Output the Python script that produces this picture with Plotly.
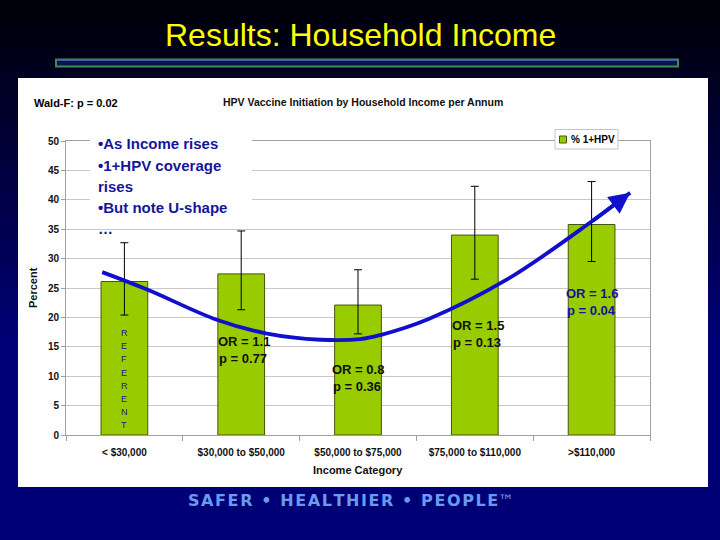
import plotly.graph_objects as go

# ---------------- data ----------------
categories = ["< $30,000", "$30,000 to $50,000", "$50,000 to $75,000",
              "$75,000 to $110,000", ">$110,000"]
pct_1hpv = [26.1, 27.4, 22.1, 34.0, 35.8]
ci_upper = [32.7, 34.7, 28.1, 42.3, 43.1]
ci_lower = [20.4, 21.3, 17.2, 26.5, 29.5]
odds_ratio = [None, "1.1", "0.8", "1.5", "1.6"]
p_values = [None, "0.77", "0.36", "0.13", "0.04"]
y_ticks = [0, 5, 10, 15, 20, 25, 30, 35, 40, 45, 50]
series_name = "% 1+HPV"

# hand-drawn U-shaped trend arrow (category position, percent)
trend_x = [-0.19, 0.2, 0.79, 1.21, 1.68, 2.02, 2.19, 2.6, 3.28, 4.0, 4.33]
trend_y = [27.7, 24.7, 19.6, 17.3, 16.2, 16.3, 17.0, 19.7, 26.5, 36.3, 41.2]

bullets = ["\u2022As Income rises", "\u20221+HPV coverage", "rises",
           "\u2022But note U-shape", "\u2026"]
referent = "REFERENT"

# ---------------- helpers ----------------
W, H = 720, 540
def px(x):
    return x / W
def py(y):
    return 1 - y / H

FONT = "Liberation Sans, Arial, sans-serif"
NAVY_TXT = "#16169a"
BAR_COLOR = "#99cc00"
BAR_EDGE = "#46560a"
CURVE = "#1010cc"

fig = go.Figure()

fig.add_trace(go.Bar(
    x=list(range(len(categories))), y=pct_1hpv, width=0.4, name=series_name,
    marker=dict(color=BAR_COLOR, line=dict(color=BAR_EDGE, width=1)),
    error_y=dict(type="data", symmetric=False,
                 array=[u - v for u, v in zip(ci_upper, pct_1hpv)],
                 arrayminus=[v - l for v, l in zip(pct_1hpv, ci_lower)],
                 color="black", thickness=1, width=4),
    hoverinfo="skip", showlegend=False,
))

fig.add_trace(go.Scatter(
    x=trend_x, y=trend_y, mode="lines", showlegend=False, hoverinfo="skip",
    line=dict(color=CURVE, width=3.8, shape="spline", smoothing=1),
))

shapes = []
# background gradient (black top -> navy bottom)
n = 45
for i in range(n):
    y0 = i * H / n
    y1 = (i + 1) * H / n
    t = min(1.0, (y0 + y1) / 2 / 340)
    b = int(8 + (118 - 8) * t)
    shapes.append(dict(type="rect", xref="paper", yref="paper", layer="below",
                       x0=0, x1=1, y0=py(y1), y1=py(y0), line=dict(width=0),
                       fillcolor=f"rgb(0,0,{b})"))
# white panel
shapes.append(dict(type="rect", xref="paper", yref="paper", layer="below",
                   x0=px(18), x1=px(708), y0=py(487), y1=py(78),
                   line=dict(width=0), fillcolor="white"))
# title rule
shapes.append(dict(type="rect", xref="paper", yref="paper", layer="below",
                   x0=px(56), x1=px(678), y0=py(66.5), y1=py(59.5),
                   line=dict(color="#3c8c4c", width=2), fillcolor="#0c1450"))
shapes.append(dict(type="line", xref="paper", yref="paper", layer="below",
                   x0=px(57), x1=px(677), y0=py(60), y1=py(60),
                   line=dict(color="#3f66c8", width=1.5)))
# white box behind bullet text
shapes.append(dict(type="rect", xref="paper", yref="paper", layer="above",
                   x0=px(90), x1=px(252), y0=py(216), y1=py(134),
                   line=dict(width=0), fillcolor="white"))
# legend box
shapes.append(dict(type="rect", xref="paper", yref="paper", layer="above",
                   x0=px(555), x1=px(618), y0=py(149), y1=py(129.5),
                   line=dict(color="#c4c4c4", width=1), fillcolor="white"))
shapes.append(dict(type="rect", xref="paper", yref="paper", layer="above",
                   x0=px(559.5), x1=px(566.5), y0=py(143), y1=py(136),
                   line=dict(color=BAR_EDGE, width=1), fillcolor=BAR_COLOR))

ann = []
def txt(text, x, y, size, color="#111", xanchor="center", family=FONT, **kw):
    d = dict(text=text, x=px(x), y=py(y), xref="paper", yref="paper",
             xanchor=xanchor, yanchor="middle", showarrow=False,
             font=dict(family=family, size=size, color=color))
    d.update(kw)
    ann.append(d)

txt("Results: Household Income", 360, 35, 32, "#ffff00")
txt("<b>Wald-F: p = 0.02</b>", 32, 102.5, 11, "black", xanchor="left")
txt("<b>HPV Vaccine Initiation by Household Income per Annum</b>", 363, 101.5, 10.5)
txt("<b>Percent</b>", 33, 288, 11, textangle=-90)
txt("<b>Income Category</b>", 358, 470, 11)
txt(f"<b>{series_name}</b>", 569, 139.5, 10, "black", xanchor="left")
for i, line in enumerate(bullets):
    txt(f"<b>{line}</b>", 96, 144 + 21.2 * i, 15, NAVY_TXT, xanchor="left")
for i, ch in enumerate(referent):
    ann.append(dict(text=ch, x=0, y=py(333 + 13.2 * i), xref="x", yref="paper",
                    xanchor="center", yanchor="middle", showarrow=False,
                    font=dict(family=FONT, size=9, color=NAVY_TXT)))
or_pos = {1: (216, 341, "#111111"), 2: (330, 369, "#111111"),
          3: (450, 325, "#111111"), 4: (564, 293, "#14149a")}
for i in range(len(categories)):
    if odds_ratio[i] is None:
        continue
    x0, y0, col = or_pos[i]
    txt(f"<b>OR = {odds_ratio[i]}</b>", x0, y0, 13, col, xanchor="left")
    txt(f"<b>p = {p_values[i]}</b>", x0 + 1, y0 + 17, 13, col, xanchor="left")
# arrow head for the trend
ann.append(dict(text="", x=trend_x[-1], y=trend_y[-1], ax=trend_x[-2], ay=trend_y[-2],
                xref="x", yref="y", axref="x", ayref="y", showarrow=True,
                arrowhead=2, arrowsize=1.1, arrowwidth=3.8, arrowcolor=CURVE))
hs = "\u200a"
slogan = hs.join("SAFER \u2022 HEALTHIER \u2022 PEOPLE")
txt(f"<b>{slogan}</b>\u2122", 351, 500, 16, "#6a9af0", family="DejaVu Sans, sans-serif")

fig.update_layout(
    width=W, height=H, autosize=False,
    margin=dict(l=0, r=0, t=0, b=0, pad=0, autoexpand=False),
    paper_bgcolor="#000040", plot_bgcolor="white",
    shapes=shapes, annotations=ann,
    showlegend=False,
    xaxis=dict(domain=[px(66), px(650)], range=[-0.5, 4.5], automargin=False,
               tickmode="array", tickvals=list(range(len(categories))),
               ticktext=[f"<b>{c}</b>" for c in categories],
               tickfont=dict(family=FONT, size=10, color="#111"),
               showgrid=False, zeroline=False, showline=True, mirror=True,
               linecolor="#a0a0a0", linewidth=1, ticks="", ticklabelstandoff=8,
               minor=dict(tickmode="array", tickvals=[i - 0.5 for i in range(6)],
                          ticks="outside", ticklen=5, tickcolor="#a0a0a0",
                          showgrid=False),
               fixedrange=True),
    yaxis=dict(domain=[py(435), py(141)], range=[0, 50], automargin=False,
               tickmode="array", tickvals=y_ticks,
               ticktext=[f"<b>{v}</b>" for v in y_ticks],
               tickfont=dict(family=FONT, size=10, color="#111"),
               showgrid=True, gridcolor="#c8c8c8", gridwidth=1, zeroline=False,
               showline=True, mirror=True, linecolor="#a0a0a0", linewidth=1,
               ticks="outside", ticklen=4, tickcolor="#a0a0a0", fixedrange=True),
)

fig.write_html("out.html", config={"displayModeBar": False},
               post_script="document.body.style.margin='0px';")
